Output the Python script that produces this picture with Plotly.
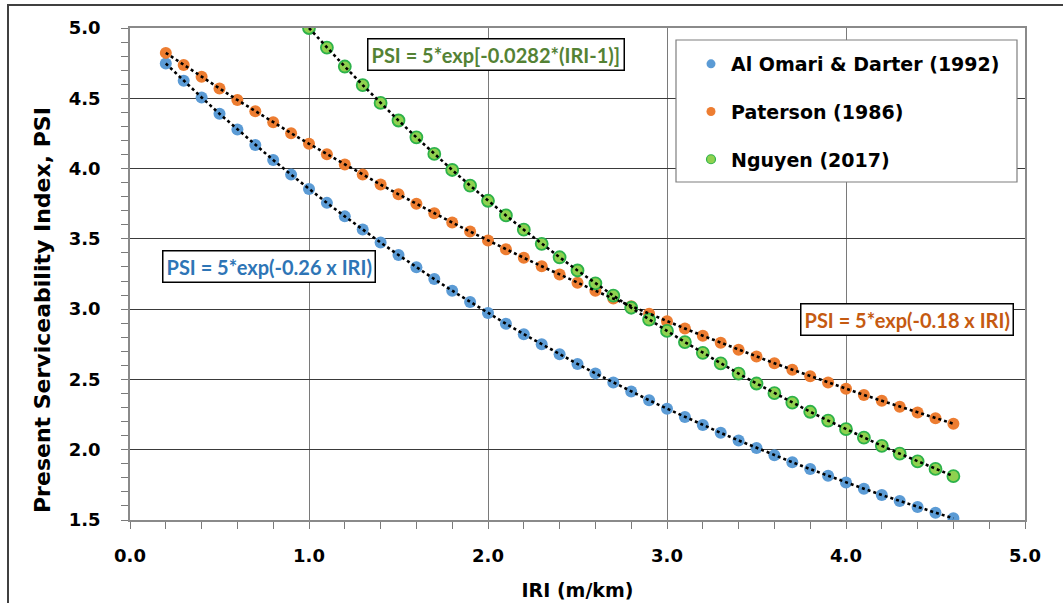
import plotly.graph_objects as go

# IRI values (m/km) and PSI readings for each model
iri_main = [0.2, 0.3, 0.4, 0.5, 0.6, 0.7, 0.8, 0.9, 1.0, 1.1, 1.2, 1.3, 1.4, 1.5,
            1.6, 1.7, 1.8, 1.9, 2.0, 2.1, 2.2, 2.3, 2.4, 2.5, 2.6, 2.7, 2.8, 2.9,
            3.0, 3.1, 3.2, 3.3, 3.4, 3.5, 3.6, 3.7, 3.8, 3.9, 4.0, 4.1, 4.2, 4.3,
            4.4, 4.5, 4.6]
psi_al_omari = [4.747, 4.625, 4.506, 4.390, 4.278, 4.168, 4.061, 3.957, 3.855,
                3.756, 3.660, 3.566, 3.474, 3.385, 3.298, 3.214, 3.131, 3.051,
                2.973, 2.896, 2.822, 2.750, 2.679, 2.610, 2.543, 2.478, 2.414,
                2.352, 2.292, 2.233, 2.176, 2.120, 2.066, 2.013, 1.961, 1.911,
                1.862, 1.814, 1.767, 1.722, 1.678, 1.635, 1.593, 1.552, 1.512]
psi_paterson = [4.823, 4.737, 4.653, 4.570, 4.488, 4.408, 4.329, 4.252, 4.176,
                4.102, 4.029, 3.957, 3.886, 3.817, 3.749, 3.682, 3.616, 3.552,
                3.488, 3.426, 3.365, 3.305, 3.246, 3.188, 3.131, 3.075, 3.021,
                2.967, 2.914, 2.862, 2.811, 2.761, 2.711, 2.663, 2.615, 2.569,
                2.523, 2.478, 2.434, 2.390, 2.348, 2.306, 2.265, 2.224, 2.185]
iri_nguyen = [1.0, 1.1, 1.2, 1.3, 1.4, 1.5, 1.6, 1.7, 1.8, 1.9, 2.0, 2.1, 2.2,
              2.3, 2.4, 2.5, 2.6, 2.7, 2.8, 2.9, 3.0, 3.1, 3.2, 3.3, 3.4, 3.5,
              3.6, 3.7, 3.8, 3.9, 4.0, 4.1, 4.2, 4.3, 4.4, 4.5, 4.6]
psi_nguyen = [5.000, 4.861, 4.726, 4.594, 4.467, 4.342, 4.222, 4.104, 3.990,
              3.879, 3.771, 3.667, 3.565, 3.465, 3.369, 3.275, 3.184, 3.096,
              3.010, 2.926, 2.845, 2.766, 2.689, 2.614, 2.541, 2.471, 2.402,
              2.335, 2.270, 2.207, 2.146, 2.086, 2.028, 1.972, 1.917, 1.863,
              1.812]

series_names = ["Al Omari & Darter (1992)", "Paterson (1986)", "Nguyen (2017)"]
equations = ["PSI = 5*exp(-0.26 x IRI)", "PSI = 5*exp(-0.18 x IRI)",
             "PSI = 5*exp[-0.0282*(IRI-1)]"]
x_title = "IRI (m/km)"
y_title = "Present Serviceability Index, PSI"

FONT = "DejaVu Sans"
EQ_FONT = "Lato"

blue = "#5B9BD5"
orange = "#ED7D31"
green_fill = "#8FD14F"
green_line = "#2DB24A"

fig = go.Figure()

series = [
    (iri_main, psi_al_omari, dict(color=blue, size=12, line=dict(width=0))),
    (iri_main, psi_paterson, dict(color=orange, size=12, line=dict(width=0))),
    (iri_nguyen, psi_nguyen, dict(color=green_fill, size=12,
                                  line=dict(color=green_line, width=1.8))),
]

for xs, ys, mk in series:
    fig.add_trace(go.Scatter(x=xs, y=ys, mode="markers", marker=mk,
                             showlegend=False, hoverinfo="skip"))

# dotted exponential trendlines drawn over the markers
for xs, ys, _ in series:
    fig.add_trace(go.Scatter(x=xs, y=ys, mode="lines",
                             line=dict(color="black", width=2.6, dash="dot"),
                             showlegend=False, hoverinfo="skip"))

# legend entries with smaller symbols
for i, (name, (_, _, mk)) in enumerate(zip(series_names, series)):
    lm = dict(mk)
    lm["size"] = 9
    if i == 2:
        lm["line"] = dict(color=green_line, width=1.2)
    fig.add_trace(go.Scatter(x=[None], y=[None], mode="markers", marker=lm,
                             name=name, legendgroup=f"g{i}", showlegend=True))

W, H = 1063, 603
ML, MR, MT, MB = 130, 38, 28, 83
PW, PH = W - ML - MR, H - MT - MB


def px_x(p):
    return (p - ML) / PW


def px_y(p):
    return 1 - (p - MT) / PH


shapes = [
    # outer chart frame
    dict(type="rect", xref="paper", yref="paper",
         x0=px_x(8), x1=px_x(1080), y0=px_y(620), y1=px_y(5),
         line=dict(color="#404040", width=2), fillcolor="rgba(0,0,0,0)",
         layer="below"),
    # legend box
    dict(type="rect", xref="paper", yref="paper",
         x0=px_x(676), x1=px_x(1017), y0=px_y(182), y1=px_y(40),
         line=dict(color="#7f7f7f", width=1.2), fillcolor="white",
         layer="above"),
]

eq_specs = [
    (equations[0], 0.774, 3.300, "#2E75B6"),
    (equations[1], 4.338, 2.923, "#C55A11"),
    (equations[2], 2.042, 4.808, "#548235"),
]
annotations = []
for text, x, y, col in eq_specs:
    annotations.append(dict(
        x=x, y=y, xref="x", yref="y", text=text, showarrow=False,
        font=dict(family=EQ_FONT, size=20, color=col, weight="bold"),
        bgcolor="white", bordercolor="black", borderwidth=1.5, borderpad=3,
        xanchor="center", yanchor="middle"))

# vertical axis title
annotations.append(dict(
    x=px_x(42), y=px_y(310), xref="paper", yref="paper", text=y_title,
    showarrow=False, textangle=-90, xanchor="center", yanchor="middle",
    font=dict(family=FONT, size=22, color="black", weight="bold")))

fig.update_layout(
    width=W, height=H,
    margin=dict(l=ML, r=MR, t=MT, b=MB),
    paper_bgcolor="white", plot_bgcolor="white",
    font=dict(family=FONT, color="black"),
    shapes=shapes,
    annotations=annotations,
    legend=dict(x=px_x(691), y=px_y(45), xanchor="left", yanchor="top",
                bgcolor="rgba(0,0,0,0)", borderwidth=0,
                font=dict(family=FONT, size=19, color="black", weight="bold"),
                tracegroupgap=20, itemsizing="trace"),
)

fig.update_xaxes(
    range=[0, 5], dtick=1.0, tick0=0, tickformat=".1f", automargin=False,
    showgrid=True, gridcolor="#7a7a7a", gridwidth=1,
    showline=True, linecolor="#8a8a8a", linewidth=1.5, mirror=True,
    ticks="outside", ticklen=7, tickcolor="#7a7a7a",
    minor=dict(dtick=0.2, ticks="outside", ticklen=7, tickcolor="#7a7a7a",
               showgrid=False),
    zeroline=False, ticklabelstandoff=12,
    tickfont=dict(family=FONT, size=18, weight="bold"),
    title=dict(text=x_title, standoff=18,
               font=dict(family=FONT, size=19, weight="bold")),
)
fig.update_yaxes(
    range=[1.5, 5.0], dtick=0.5, tick0=1.5, tickformat=".1f", automargin=False,
    showgrid=True, gridcolor="#3a3a3a", gridwidth=1,
    showline=True, linecolor="#8a8a8a", linewidth=1.5, mirror=True,
    ticks="outside", ticklen=7, tickcolor="#7a7a7a",
    minor=dict(dtick=0.1, ticks="outside", ticklen=7, tickcolor="#7a7a7a",
               showgrid=False),
    zeroline=False, ticklabelstandoff=17,
    tickfont=dict(family=FONT, size=18, weight="bold"),
)

fig.write_html("out.html")
